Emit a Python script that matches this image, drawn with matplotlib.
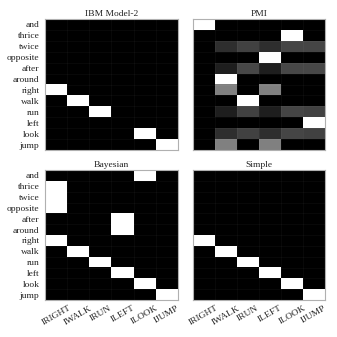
import matplotlib.pyplot as plt
import numpy as np

plt.rcParams['font.family'] = ['Liberation Serif', 'DejaVu Serif']

words = ['and', 'thrice', 'twice', 'opposite', 'after', 'around',
         'right', 'walk', 'run', 'left', 'look', 'jump']
actions = ['IRIGHT', 'IWALK', 'IRUN', 'ILEFT', 'ILOOK', 'IJUMP']

ibm = [[0, 0, 0, 0, 0, 0],
       [0, 0, 0, 0, 0, 0],
       [0, 0, 0, 0, 0, 0],
       [0, 0, 0, 0, 0, 0],
       [0, 0, 0, 0, 0, 0],
       [0, 0, 0, 0, 0, 0],
       [1, 0, 0, 0, 0, 0],
       [0, 1, 0, 0, 0, 0],
       [0, 0, 1, 0, 0, 0],
       [0, 0, 0, 0, 0, 0],
       [0, 0, 0, 0, 1, 0],
       [0, 0, 0, 0, 0, 1]]

pmi = [[1, 0, 0, 0, 0, 0],
       [0, 0, 0, 0, 1, 0],
       [0, 0.18, 0.26, 0.18, 0.27, 0.27],
       [0, 0, 0, 1, 0, 0],
       [0, 0.12, 0.28, 0.12, 0.28, 0.28],
       [0, 1, 0, 0, 0, 0],
       [0, 0.5, 0, 0.5, 0, 0],
       [0, 0, 1, 0, 0, 0],
       [0, 0.12, 0.26, 0.12, 0.27, 0.26],
       [0, 0, 0, 0, 0, 1],
       [0, 0.18, 0.26, 0.18, 0.27, 0.26],
       [0, 0.5, 0, 0.5, 0, 0]]

bayes = [[0, 0, 0, 0, 1, 0],
         [1, 0, 0, 0, 0, 0],
         [1, 0, 0, 0, 0, 0],
         [1, 0, 0, 0, 0, 0],
         [0, 0, 0, 1, 0, 0],
         [0, 0, 0, 1, 0, 0],
         [1, 0, 0, 0, 0, 0],
         [0, 1, 0, 0, 0, 0],
         [0, 0, 1, 0, 0, 0],
         [0, 0, 0, 1, 0, 0],
         [0, 0, 0, 0, 1, 0],
         [0, 0, 0, 0, 0, 1]]

simple = [[0, 0, 0, 0, 0, 0],
          [0, 0, 0, 0, 0, 0],
          [0, 0, 0, 0, 0, 0],
          [0, 0, 0, 0, 0, 0],
          [0, 0, 0, 0, 0, 0],
          [0, 0, 0, 0, 0, 0],
          [1, 0, 0, 0, 0, 0],
          [0, 1, 0, 0, 0, 0],
          [0, 0, 1, 0, 0, 0],
          [0, 0, 0, 1, 0, 0],
          [0, 0, 0, 0, 1, 0],
          [0, 0, 0, 0, 0, 1]]

panels = [('IBM Model-2', ibm), ('PMI', pmi), ('Bayesian', bayes), ('Simple', simple)]

fig = plt.figure(figsize=(3.37, 3.37), dpi=100)
W, H = 337, 337
# pixel boxes of each heatmap: left, top, right, bottom
boxes = [(45, 19, 178, 150), (193, 19, 325, 150),
         (45, 170, 178, 300), (193, 170, 325, 300)]

for i, ((title, mat), (l, t, r, b)) in enumerate(zip(panels, boxes)):
    ax = fig.add_axes([l / W, 1 - b / H, (r - l) / W, (b - t) / H])
    ax.imshow(np.array(mat, dtype=float), cmap='gray', vmin=0, vmax=1,
              aspect='auto', interpolation='nearest')
    # faint cell borders
    for x in np.arange(0.5, len(actions) - 1, 1):
        ax.axvline(x, color='white', alpha=0.05, lw=0.5)
    for y in np.arange(0.5, len(words) - 1, 1):
        ax.axhline(y, color='white', alpha=0.05, lw=0.5)
    ax.set_title(title, fontsize=6.8, pad=2.5, color='#222222')
    ax.set_xticks(range(len(actions)))
    ax.set_yticks(range(len(words)))
    if i % 2 == 0:
        ax.set_yticklabels(words, fontsize=6.8, color='#222222')
    else:
        ax.set_yticklabels([])
    if i >= 2:
        ax.set_xticklabels(actions, fontsize=6.8, rotation=30, ha='center',
                           color='#222222')
    else:
        ax.set_xticklabels([])
    ax.tick_params(length=0, pad=4)
    ax.tick_params(axis='x', pad=3)
    for s in ax.spines.values():
        s.set_color('#b0b0b0')
        s.set_linewidth(0.8)

fig.savefig('out.png', dpi=100)
